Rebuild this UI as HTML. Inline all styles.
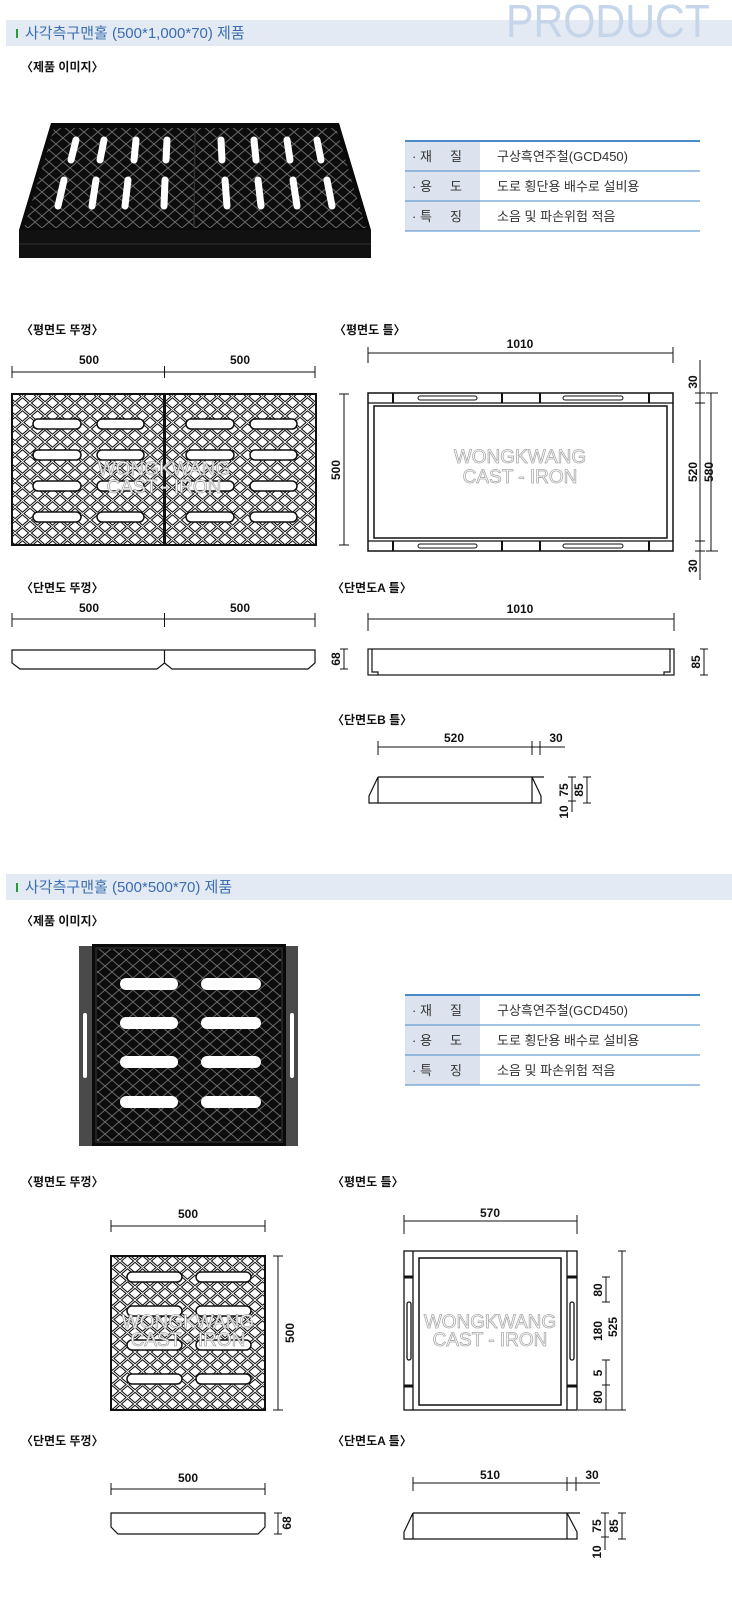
<!DOCTYPE html>
<html><head><meta charset="utf-8"><style>
html,body{margin:0;padding:0;background:#fff;}
svg{display:block;}
text{font-family:"Liberation Sans","Noto Sans CJK KR",sans-serif;}
.h{font-size:12px;font-weight:bold;fill:#111;}
.d{font-size:12px;font-weight:bold;fill:#111;}
.t{font-size:13px;fill:#333;}
.ln{stroke:#111;stroke-width:1;fill:none;}
.wm{font-size:19px;fill:#fff;stroke:#aaa;stroke-width:0.8;font-weight:normal;}
</style></head><body>
<svg width="732" height="1610" viewBox="0 0 732 1610" xmlns="http://www.w3.org/2000/svg">
<defs>
<pattern id="lat" width="15" height="13" patternUnits="userSpaceOnUse">
<rect width="15" height="13" fill="#fff"/>
<path d="M0 0L15 13M15 0L0 13" stroke="#111" stroke-width="3"/>
<path d="M0 0L15 13M15 0L0 13" stroke="#fff" stroke-width="0.9"/>
</pattern>
<pattern id="plat" width="14" height="12" patternUnits="userSpaceOnUse">
<rect width="14" height="12" fill="#0c0c0c"/>
<path d="M0 0L14 12M14 0L0 12" stroke="#6a6a6a" stroke-width="1"/>
</pattern>
</defs>

<!-- Header 1 -->
<rect x="6" y="20" width="726" height="26" fill="#e3eaf3"/>
<text x="506" y="37" font-size="46" fill="#c6d6ea" textLength="204" lengthAdjust="spacingAndGlyphs">PRODUCT</text>
<rect x="16" y="29" width="2" height="9" fill="#2a9a3a"/>
<text x="25" y="38" font-size="15" fill="#3b6db0">사각측구맨홀 (500*1,000*70) 제품</text>
<text x="21" y="71" class="h">〈제품 이미지〉</text>

<!-- Photo 1 -->
<polygon points="19,230 51,123 339,123 371,230 371,258 19,258" fill="#0a0a0a"/>
<polygon points="24,228 54,128 336,128 366,228" fill="url(#plat)"/>
<line x1="195" y1="128" x2="194" y2="228" stroke="#333" stroke-width="1.5"/>
<rect x="19" y="230" width="352" height="28" fill="#111"/>
<line x1="19" y1="244" x2="371" y2="244" stroke="#333" stroke-width="1"/>
<g stroke="#fff" stroke-width="7" stroke-linecap="round">
<line x1="76" y1="140" x2="71" y2="160"/><line x1="104" y1="140" x2="100" y2="160"/><line x1="136" y1="140" x2="134" y2="160"/><line x1="167" y1="140" x2="166" y2="160"/>
<line x1="221" y1="140" x2="222" y2="160"/><line x1="254" y1="140" x2="256" y2="160"/><line x1="287" y1="140" x2="290" y2="160"/><line x1="317" y1="140" x2="321" y2="160"/>
<line x1="64" y1="180" x2="58" y2="206"/><line x1="96" y1="180" x2="92" y2="206"/><line x1="128" y1="180" x2="125" y2="206"/><line x1="165" y1="180" x2="164" y2="206"/>
<line x1="225" y1="180" x2="227" y2="206"/><line x1="258" y1="180" x2="261" y2="206"/><line x1="293" y1="180" x2="297" y2="206"/><line x1="327" y1="180" x2="332" y2="206"/>
</g>

<!-- Table 1 -->
<g>
<rect x="405" y="141" width="75" height="90" fill="#dde3ee"/>
<line x1="405" y1="141" x2="700" y2="141" stroke="#4a8ac8" stroke-width="2"/>
<line x1="405" y1="171" x2="700" y2="171" stroke="#4a8ac8" stroke-width="1"/>
<line x1="405" y1="201" x2="700" y2="201" stroke="#4a8ac8" stroke-width="1"/>
<line x1="405" y1="231" x2="700" y2="231" stroke="#4a8ac8" stroke-width="1"/>
<text x="412" y="161" class="t">· 재&#160;&#160;&#160;&#160;&#160;질</text>
<text x="497" y="161" class="t">구상흑연주철(GCD450)</text>
<text x="412" y="191" class="t">· 용&#160;&#160;&#160;&#160;&#160;도</text>
<text x="497" y="191" class="t">도로 횡단용 배수로 설비용</text>
<text x="412" y="221" class="t">· 특&#160;&#160;&#160;&#160;&#160;징</text>
<text x="497" y="221" class="t">소음 및 파손위험 적음</text>
</g>

<!-- Plan lid 1 -->
<text x="21" y="334" class="h">〈평면도 뚜껑〉</text>
<text x="334" y="334" class="h">〈평면도 틀〉</text>
<g class="ln"><path d="M12 372H315M12 366V378M164.5 366V378M315 366V378"/></g>
<text x="89" y="364" class="d" text-anchor="middle">500</text>
<text x="240" y="364" class="d" text-anchor="middle">500</text>
<g>
<rect x="12" y="394" width="152" height="151" fill="url(#lat)" stroke="#111" stroke-width="2"/>
<rect x="165" y="394" width="151" height="151" fill="url(#lat)" stroke="#111" stroke-width="2"/>
<g fill="#fff" stroke="#111" stroke-width="1.5">
<rect x="33" y="419" width="48" height="10" rx="5"/><rect x="97" y="419" width="47" height="10" rx="5"/>
<rect x="33" y="450" width="48" height="10" rx="5"/><rect x="97" y="450" width="47" height="10" rx="5"/>
<rect x="33" y="481" width="48" height="10" rx="5"/><rect x="97" y="481" width="47" height="10" rx="5"/>
<rect x="33" y="512" width="48" height="10" rx="5"/><rect x="97" y="512" width="47" height="10" rx="5"/>
<rect x="186" y="419" width="48" height="10" rx="5"/><rect x="250" y="419" width="47" height="10" rx="5"/>
<rect x="186" y="450" width="48" height="10" rx="5"/><rect x="250" y="450" width="47" height="10" rx="5"/>
<rect x="186" y="481" width="48" height="10" rx="5"/><rect x="250" y="481" width="47" height="10" rx="5"/>
<rect x="186" y="512" width="48" height="10" rx="5"/><rect x="250" y="512" width="47" height="10" rx="5"/>
</g>
<text x="164" y="475" class="wm" text-anchor="middle" font-size="22">WONGKWANG</text>
<text x="164" y="493" class="wm" text-anchor="middle" font-size="17">CAST - IRON</text>
</g>
<g class="ln"><path d="M344 394V545M339 394H349M339 545H349"/></g>
<text class="d" transform="translate(340,470) rotate(-90)" text-anchor="middle">500</text>

<!-- Plan frame 1 -->
<g class="ln"><path d="M368 353H673M368 347V363M673 347V363"/></g>
<text x="520" y="348" class="d" text-anchor="middle">1010</text>
<g stroke="#111" fill="none">
<rect x="368" y="393" width="305" height="158" stroke-width="1.5"/>
<line x1="368" y1="403" x2="673" y2="403" stroke-width="1.2"/>
<line x1="368" y1="541" x2="673" y2="541" stroke-width="1.2"/>
<rect x="374" y="406" width="293" height="132" stroke-width="1.5"/>
<path d="M393 393V403M502 393V403M540 393V403M649 393V403M393 541V551M502 541V551M540 541V551M649 541V551" stroke-width="2"/>
<rect x="418" y="396" width="59" height="4" rx="2"/><rect x="563" y="396" width="60" height="4" rx="2"/>
<rect x="418" y="544" width="59" height="4" rx="2"/><rect x="563" y="544" width="60" height="4" rx="2"/>
</g>
<text x="520" y="463" class="wm" text-anchor="middle" font-size="23">WONGKWANG</text>
<text x="520" y="483" class="wm" text-anchor="middle" font-size="19">CAST - IRON</text>
<g class="ln"><path d="M700 360V580M695 403H705M695 541H705M711 393V551M706 393H718M706 551H718M695 393H705M695 551H705"/></g>
<text class="d" transform="translate(697,382) rotate(-90)" text-anchor="middle">30</text>
<text class="d" transform="translate(697,472) rotate(-90)" text-anchor="middle">520</text>
<text class="d" transform="translate(697,566) rotate(-90)" text-anchor="middle">30</text>
<text class="d" transform="translate(713,472) rotate(-90)" text-anchor="middle">580</text>

<!-- Section A -->
<text x="21" y="592" class="h">〈단면도 뚜껑〉</text>
<text x="332" y="592" class="h">〈단면도A 틀〉</text>
<g class="ln"><path d="M12 619H315M12 613V627M164.5 613V627M315 613V627"/></g>
<text x="89" y="612" class="d" text-anchor="middle">500</text>
<text x="240" y="612" class="d" text-anchor="middle">500</text>
<path d="M12 650H315V663L308 669H172L164.5 663L157 669H20L12 663Z M164.5 650V663" fill="none" stroke="#111" stroke-width="1.2"/>
<g class="ln"><path d="M344 649V669M340 649H348M340 669H348"/></g>
<text class="d" transform="translate(340,659) rotate(-90)" text-anchor="middle">68</text>
<g class="ln"><path d="M368 619H674M368 613V631M674 613V631"/></g>
<text x="520" y="613" class="d" text-anchor="middle">1010</text>
<g stroke="#111" fill="none" stroke-width="1.2">
<rect x="368" y="649" width="306" height="26"/>
<path d="M372 649V672H378V675M670 649V672H664V675"/>
</g>
<g class="ln"><path d="M704 649V675M700 649H708M700 675H708"/></g>
<text class="d" transform="translate(700,662) rotate(-90)" text-anchor="middle">85</text>

<!-- Section B -->
<text x="332" y="724" class="h">〈단면도B 틀〉</text>
<g class="ln"><path d="M378 747H565M378 741V755M532 741V755M540 741V755"/></g>
<text x="454" y="742" class="d" text-anchor="middle">520</text>
<text x="556" y="742" class="d" text-anchor="middle">30</text>
<path d="M378 777H544M532 777L541 796V803H369V796L378 777V803M532 777V803" fill="none" stroke="#111" stroke-width="1.2"/>
<g class="ln"><path d="M572 777V812M568 777H576M568 801H576M587 777V803M583 777H591M583 803H591"/></g>
<text class="d" transform="translate(568,790) rotate(-90)" text-anchor="middle">75</text>
<text class="d" transform="translate(583,790) rotate(-90)" text-anchor="middle">85</text>
<text class="d" transform="translate(568,812) rotate(-90)" text-anchor="middle">10</text>

<!-- Header 2 -->
<rect x="6" y="874" width="726" height="26" fill="#e3eaf3"/>
<rect x="16" y="883" width="2" height="9" fill="#2a9a3a"/>
<text x="25" y="892" font-size="15" fill="#3b6db0">사각측구맨홀 (500*500*70) 제품</text>
<text x="21" y="925" class="h">〈제품 이미지〉</text>

<!-- Photo 2 -->
<rect x="79" y="946" width="219" height="200" fill="#4a4a4a"/>
<rect x="92" y="944" width="194" height="202" fill="#0a0a0a"/>
<rect x="96" y="948" width="186" height="194" fill="url(#plat)" stroke="#222" stroke-width="2"/>
<g fill="#fff">
<rect x="120" y="978" width="58" height="12" rx="6"/><rect x="201" y="978" width="60" height="12" rx="6"/>
<rect x="120" y="1017" width="58" height="12" rx="6"/><rect x="201" y="1017" width="60" height="12" rx="6"/>
<rect x="120" y="1056" width="58" height="12" rx="6"/><rect x="201" y="1056" width="60" height="12" rx="6"/>
<rect x="120" y="1096" width="58" height="12" rx="6"/><rect x="201" y="1096" width="60" height="12" rx="6"/>
<rect x="83" y="1013" width="4" height="65" rx="2"/><rect x="290" y="1013" width="4" height="65" rx="2"/>
</g>

<!-- Table 2 -->
<g>
<rect x="405" y="995" width="75" height="90" fill="#dde3ee"/>
<line x1="405" y1="995" x2="700" y2="995" stroke="#4a8ac8" stroke-width="2"/>
<line x1="405" y1="1025" x2="700" y2="1025" stroke="#4a8ac8" stroke-width="1"/>
<line x1="405" y1="1055" x2="700" y2="1055" stroke="#4a8ac8" stroke-width="1"/>
<line x1="405" y1="1085" x2="700" y2="1085" stroke="#4a8ac8" stroke-width="1"/>
<text x="412" y="1015" class="t">· 재&#160;&#160;&#160;&#160;&#160;질</text>
<text x="497" y="1015" class="t">구상흑연주철(GCD450)</text>
<text x="412" y="1045" class="t">· 용&#160;&#160;&#160;&#160;&#160;도</text>
<text x="497" y="1045" class="t">도로 횡단용 배수로 설비용</text>
<text x="412" y="1075" class="t">· 특&#160;&#160;&#160;&#160;&#160;징</text>
<text x="497" y="1075" class="t">소음 및 파손위험 적음</text>
</g>

<!-- Plan lid 2 -->
<text x="21" y="1186" class="h">〈평면도 뚜껑〉</text>
<text x="332" y="1186" class="h">〈평면도 틀〉</text>
<g class="ln"><path d="M111 1226H265M111 1220V1232M265 1220V1232"/></g>
<text x="188" y="1218" class="d" text-anchor="middle">500</text>
<rect x="111" y="1256" width="154" height="154" fill="url(#lat)" stroke="#111" stroke-width="2"/>
<g fill="#fff" stroke="#111" stroke-width="1.5">
<rect x="127" y="1272" width="55" height="10" rx="5"/><rect x="196" y="1272" width="55" height="10" rx="5"/>
<rect x="127" y="1306" width="55" height="10" rx="5"/><rect x="196" y="1306" width="55" height="10" rx="5"/>
<rect x="127" y="1340" width="55" height="10" rx="5"/><rect x="196" y="1340" width="55" height="10" rx="5"/>
<rect x="127" y="1374" width="55" height="10" rx="5"/><rect x="196" y="1374" width="55" height="10" rx="5"/>
</g>
<text x="188" y="1328" class="wm" text-anchor="middle" font-size="22">WONGKWANG</text>
<text x="188" y="1346" class="wm" text-anchor="middle" font-size="17">CAST - IRON</text>
<g class="ln"><path d="M278 1256V1410M273 1256H283M273 1410H283"/></g>
<text class="d" transform="translate(294,1333) rotate(-90)" text-anchor="middle">500</text>

<!-- Plan frame 2 -->
<g class="ln"><path d="M404 1221H577M404 1215V1234M577 1215V1234"/></g>
<text x="490" y="1217" class="d" text-anchor="middle">570</text>
<g stroke="#111" fill="none" stroke-width="1.3">
<rect x="404" y="1251" width="173" height="159"/>
<line x1="413" y1="1251" x2="413" y2="1410"/><line x1="567" y1="1251" x2="567" y2="1410"/>
<rect x="419" y="1258" width="142" height="147" stroke-width="1.5"/>
<path d="M404 1277H413M567 1277H577M404 1386H413M567 1386H577" stroke-width="3"/>
<rect x="407" y="1302" width="4" height="58" rx="2"/><rect x="570" y="1302" width="4" height="58" rx="2"/>
</g>
<text x="490" y="1328" class="wm" text-anchor="middle" font-size="22">WONGKWANG</text>
<text x="490" y="1346" class="wm" text-anchor="middle" font-size="18">CAST - IRON</text>
<g class="ln"><path d="M606 1277V1302M606 1360V1410M602 1277H610M602 1302H610M602 1360H610M602 1385H610M622 1251V1410M578 1410H626M618 1251H626"/></g>
<text class="d" transform="translate(602,1290) rotate(-90)" text-anchor="middle">80</text>
<text class="d" transform="translate(602,1331) rotate(-90)" text-anchor="middle">180</text>
<text class="d" transform="translate(602,1373) rotate(-90)" text-anchor="middle">5</text>
<text class="d" transform="translate(602,1397) rotate(-90)" text-anchor="middle">80</text>
<text class="d" transform="translate(617,1327) rotate(-90)" text-anchor="middle">525</text>

<!-- Section 2 -->
<text x="21" y="1445" class="h">〈단면도 뚜껑〉</text>
<text x="332" y="1445" class="h">〈단면도A 틀〉</text>
<g class="ln"><path d="M111 1489H265M111 1483V1495M265 1483V1495"/></g>
<text x="188" y="1482" class="d" text-anchor="middle">500</text>
<path d="M111 1513H265V1527L258 1534H118L111 1527Z" fill="none" stroke="#111" stroke-width="1.2"/>
<g class="ln"><path d="M278 1513V1534M274 1513H282M274 1534H282"/></g>
<text class="d" transform="translate(291,1523) rotate(-90)" text-anchor="middle">68</text>
<g class="ln"><path d="M413 1483H600M413 1477V1491M567 1477V1491M576 1477V1491"/></g>
<text x="490" y="1479" class="d" text-anchor="middle">510</text>
<text x="592" y="1479" class="d" text-anchor="middle">30</text>
<path d="M413 1513H580M567 1513L577 1532V1539H404V1532L413 1513V1539M567 1513V1539" fill="none" stroke="#111" stroke-width="1.2"/>
<g class="ln"><path d="M605 1513V1550M601 1513H609M601 1537H609M622 1513V1539M618 1513H626M618 1539H626"/></g>
<text class="d" transform="translate(601,1526) rotate(-90)" text-anchor="middle">75</text>
<text class="d" transform="translate(618,1526) rotate(-90)" text-anchor="middle">85</text>
<text class="d" transform="translate(601,1552) rotate(-90)" text-anchor="middle">10</text>
</svg>
</body></html>
